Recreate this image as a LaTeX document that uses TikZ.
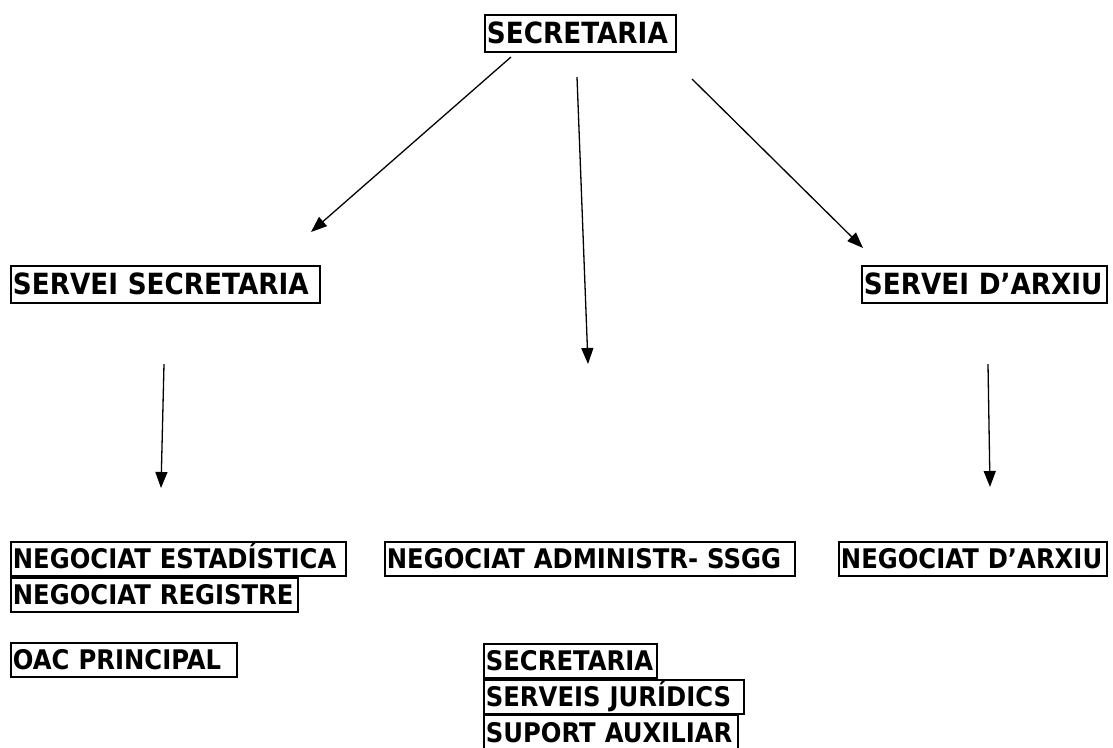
\documentclass[tikz,border=0pt]{standalone}
\usepackage{fontspec}
\setmainfont{DejaVu Sans}[FakeStretch=0.9]
\usetikzlibrary{arrows.meta}

\tikzset{
  cell/.style={draw, line width=1.8pt, anchor=north west, inner xsep=2pt, inner ysep=0pt,
    align=left, text height=27pt, text depth=7pt, font=\fontsize{27}{30}\selectfont\bfseries},
  bigcell/.style={cell, text height=29pt, text depth=8pt, font=\fontsize{29.2}{32}\selectfont\bfseries},
  link/.style={line width=1.3pt, -{Triangle[length=16pt,width=12pt]}}
}

\begin{document}
\begin{tikzpicture}[x=1pt,y=-1pt]
\useasboundingbox (0,0) rectangle (1113,747);

\node[bigcell, text width=187pt] (secretaria) at (484,14) {SECRETARIA};

\node[bigcell, text width=305pt] (servsecretaria) at (10,265) {\mbox{SERVEI SECRETARIA}};
\node[bigcell, text width=241pt] (servarxiu) at (861,265) {\mbox{SERVEI D’ARXIU}};

\node[cell, text width=331pt] (negestadistica) at (10,541) {\mbox{NEGOCIAT ESTADÍSTICA}};
\node[cell, text width=283pt] (negregistre) at (negestadistica.south west) {\mbox{NEGOCIAT REGISTRE}};
\node[cell, text width=406pt] (negadmin) at (384,541) {\mbox{NEGOCIAT ADMINISTR- SSGG}};
\node[cell, text width=264pt] (negarxiu) at (838,541) {\mbox{NEGOCIAT D’ARXIU}};

\node[cell, text width=222pt] (oac) at (10,642) {\mbox{OAC PRINCIPAL}};
\node[cell, text width=169pt] (secretariab) at (483,643) {SECRETARIA};
\node[cell, text width=256pt] (juridics) at (secretariab.south west) {\mbox{SERVEIS JURÍDICS}};
\node[cell, text width=250pt] (suport) at (juridics.south west) {\mbox{SUPORT AUXILIAR}};

% free ends of the arrows
\coordinate (a1) at (511,57);  \coordinate (b1) at (311,232);
\coordinate (a2) at (577,77);  \coordinate (b2) at (588,364);
\coordinate (a3) at (692,79);  \coordinate (b3) at (863,248);
\coordinate (a4) at (164,364); \coordinate (b4) at (161,488);
\coordinate (a5) at (988,364); \coordinate (b5) at (990,487);

\draw[link] (a1) -- (b1);
\draw[link] (a2) -- (b2);
\draw[link] (a3) -- (b3);
\draw[link] (a4) -- (b4);
\draw[link] (a5) -- (b5);

\end{tikzpicture}
\end{document}
